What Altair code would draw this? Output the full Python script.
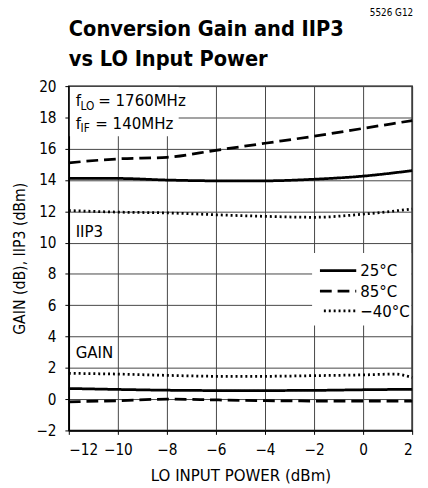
import altair as alt
import pandas as pd

FONT = "DejaVu Sans Condensed"

temps = ["25°C", "85°C", "−40°C"]
dashes = [[1, 0], [12, 6], [2, 3]]

x_main = [-12, -10, -8, -6, -4, -2, 0, 2]
iip3_25 = [14.1, 14.1, 14.0, 13.95, 13.95, 14.05, 14.25, 14.6]
iip3_85 = [15.1, 15.35, 15.45, 15.9, 16.35, 16.8, 17.3, 17.8]
iip3_m40 = [12.05, 11.95, 11.9, 11.78, 11.68, 11.62, 11.82, 12.15]
gain_25 = [0.68, 0.62, 0.57, 0.55, 0.55, 0.56, 0.6, 0.63]
gain_85 = [-0.17, -0.1, 0.0, -0.05, -0.1, -0.12, -0.12, -0.12]
x_gain_m40 = [-12, -10, -8, -6, -4, -2, 0, 1.3, 2]
gain_m40 = [1.65, 1.6, 1.52, 1.46, 1.46, 1.5, 1.55, 1.6, 1.38]

x_ticks = [-12, -10, -8, -6, -4, -2, 0, 2]
y_ticks = [-2, 0, 2, 4, 6, 8, 10, 12, 14, 16, 18, 20]

rows = []
def add(name, temp, xs, ys):
    for a, b in zip(xs, ys):
        rows.append({"series": name, "temp": temp, "x": a, "y": b})

add("iip3_25", temps[0], x_main, iip3_25)
add("iip3_85", temps[1], x_main, iip3_85)
add("iip3_m40", temps[2], x_main, iip3_m40)
add("gain_25", temps[0], x_main, gain_25)
add("gain_85", temps[1], x_main, gain_85)
add("gain_m40", temps[2], x_gain_m40, gain_m40)
df = pd.DataFrame(rows)

W, H = 350, 351

lines = alt.Chart(df).mark_line(color="black", strokeWidth=2.8, interpolate="monotone").encode(
    x=alt.X("x:Q", scale=alt.Scale(domain=[-12, 2], nice=False),
            axis=alt.Axis(values=x_ticks, title="LO INPUT POWER (dBm)", grid=True)),
    y=alt.Y("y:Q", scale=alt.Scale(domain=[-2, 20], nice=False),
            axis=alt.Axis(values=y_ticks, title="GAIN (dB), IIP3 (dBm)", grid=True)),
    strokeDash=alt.StrokeDash("temp:N", scale=alt.Scale(domain=temps, range=dashes), legend=None),
    detail="series:N",
)

one = pd.DataFrame({"a": [0]})

bg = alt.Chart(one).mark_rect(color="white").encode(
    x=alt.value(1), x2=alt.value(112), y=alt.value(1), y2=alt.value(51))

leg_bg = alt.Chart(one).mark_rect(color="white").encode(
    x=alt.value(248), x2=alt.value(349), y=alt.value(170), y2=alt.value(244))

def txt(s, x, y, size=17, weight="normal", align="left"):
    return alt.Chart(pd.DataFrame({"t": [s]})).mark_text(
        font=FONT, fontSize=size, fontWeight=weight, align=align, baseline="alphabetic",
        color="black").encode(text="t:N", x=alt.value(x), y=alt.value(y))

legend_layers = []
leg_y = [188, 209, 229]
leg_x0 = [256, 256, 260]
for t, d, yy, x0 in zip(temps, dashes, leg_y, leg_x0):
    legend_layers.append(
        alt.Chart(one).mark_rule(color="black", strokeWidth=2.8, strokeDash=d).encode(
            x=alt.value(x0), x2=alt.value(293), y=alt.value(yy)))
    legend_layers.append(txt(t, 297, yy + 6, 17))

texts = [
    txt("f", 7, 20, 17), txt("LO", 12, 24, 12), txt("= 1760MHz", 30, 20, 17),
    txt("f", 7, 44, 17), txt("IF", 12, 47, 12), txt("= 140MHz", 27, 44, 17),
    txt("IIP3", 7, 154, 17), txt("GAIN", 7, 277, 17),
    txt("Conversion Gain and IIP3", 0, -51, 22, "bold"),
    txt("vs LO Input Power", 0, -21, 22, "bold"),
    txt("5526 G12", 351, -71, 10, align="right"),
]

chart = alt.layer(lines, bg, leg_bg, *legend_layers, *texts).properties(
    width=W, height=H,
    autosize=alt.AutoSizeParams(type="none"),
    padding={"left": 62, "top": 75, "right": 8, "bottom": 52},
).configure_view(stroke="black", strokeWidth=1.5).configure_axis(
    labelFont=FONT, titleFont=FONT, labelFontSize=15.5, titleFontSize=16,
    labelColor="black", titleColor="black", titleFontWeight="normal",
    gridColor="#444", gridWidth=1, gridOpacity=1,
    domainColor="black", domainWidth=1.5, tickColor="black", tickSize=4,
    labelPadding=9,
).configure_axisX(titlePadding=10, titleFontSize=17).configure_axisY(titlePadding=9)

chart.save("out.html", embed_options={"renderer": "svg", "actions": False})
